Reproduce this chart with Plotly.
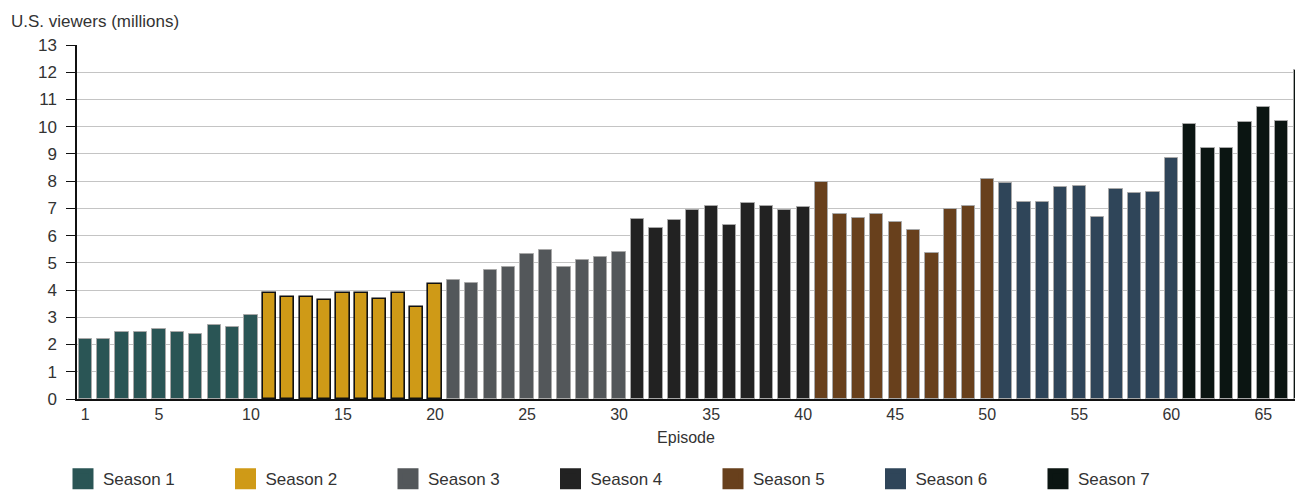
import plotly.graph_objects as go

# Viewers per episode (millions), grouped by season
season_names = ["Season 1", "Season 2", "Season 3", "Season 4", "Season 5", "Season 6", "Season 7"]
season_1 = [2.2, 2.2, 2.45, 2.45, 2.58, 2.45, 2.37, 2.7, 2.64, 3.07]
season_2 = [3.89, 3.76, 3.76, 3.63, 3.89, 3.89, 3.69, 3.89, 3.39, 4.21]
season_3 = [4.36, 4.25, 4.74, 4.86, 5.34, 5.47, 4.86, 5.1, 5.22, 5.41]
season_4 = [6.62, 6.29, 6.58, 6.93, 7.09, 6.38, 7.19, 7.09, 6.93, 7.04]
season_5 = [7.96, 6.78, 6.66, 6.78, 6.5, 6.22, 5.37, 6.96, 7.09, 8.09]
season_6 = [7.93, 7.23, 7.23, 7.78, 7.84, 6.67, 7.72, 7.55, 7.6, 8.85]
season_7 = [10.11, 9.22, 9.22, 10.17, 10.73, 10.22, 12.07]
seasons = [season_1, season_2, season_3, season_4, season_5, season_6, season_7]

season_colors = ["#2a5555", "#cf9a17", "#53575a", "#222222", "#68401c", "#2f4559", "#0b1512"]
outline_colors = ["#a8a8a8", "#111111", "#a8a8a8", "#a8a8a8", "#a8a8a8", "#a8a8a8", "#a8a8a8"]
outline_widths = [1, 1.6, 1, 1, 1, 1, 1]

x_tick_values = [1, 5, 10, 15, 20, 25, 30, 35, 40, 45, 50, 55, 60, 65]
y_tick_values = list(range(0, 14))

FONT = "Liberation Sans, Arial, sans-serif"
TEXT_COLOR = "#333333"

fig = go.Figure()

episode = 1
for name, values, color, outline, lw in zip(season_names, seasons, season_colors,
                                            outline_colors, outline_widths):
    episodes = list(range(episode, episode + len(values)))
    episode += len(values)
    fig.add_trace(go.Bar(
        x=episodes, y=values, name=name, width=0.72,
        marker=dict(color=color, line=dict(color=outline, width=lw)),
        showlegend=False,
    ))
    # legend swatch
    fig.add_trace(go.Scatter(
        x=[None], y=[None], mode="markers", name=name,
        marker=dict(symbol="square", size=16, color=color, line=dict(color=color, width=5)),
        showlegend=True,
    ))

fig.update_layout(
    width=1295, height=490,
    margin=dict(l=77, r=0, t=45, b=91, autoexpand=False),
    paper_bgcolor="white", plot_bgcolor="white",
    font=dict(family=FONT, size=17, color=TEXT_COLOR),
    bargap=0,
    legend=dict(
        orientation="h", x=-0.0115, xanchor="left", y=-0.176, yanchor="top",
        entrywidth=117.5, entrywidthmode="pixels",
        font=dict(family=FONT, size=17, color=TEXT_COLOR),
        itemclick=False, itemdoubleclick=False,
    ),
    xaxis=dict(
        range=[0.55, 66.72],
        tickmode="array", tickvals=x_tick_values, ticktext=[str(v) for v in x_tick_values],
        ticks="", showgrid=False, zeroline=False,
        showline=True, linecolor="#111111", linewidth=1.5,
        tickfont=dict(size=16, color=TEXT_COLOR),
        title=dict(text="Episode", standoff=10, font=dict(size=16, color=TEXT_COLOR)),
    ),
    yaxis=dict(
        range=[0, 13],
        tickmode="array", tickvals=y_tick_values,
        ticks="outside", ticklen=9, tickcolor="#111111", tickwidth=1.3,
        ticklabelstandoff=6,
        showgrid=True, gridcolor="#c4c4c4", gridwidth=1.3,
        zeroline=False,
        showline=True, linecolor="#111111", linewidth=1.5,
        tickfont=dict(size=17, color=TEXT_COLOR),
    ),
    annotations=[dict(
        text="U.S. viewers (millions)", xref="paper", yref="paper",
        x=-0.0555, y=1.065, xanchor="left", yanchor="middle", showarrow=False,
        font=dict(family=FONT, size=17, color=TEXT_COLOR),
    )],
)

fig.write_html("out.html")
